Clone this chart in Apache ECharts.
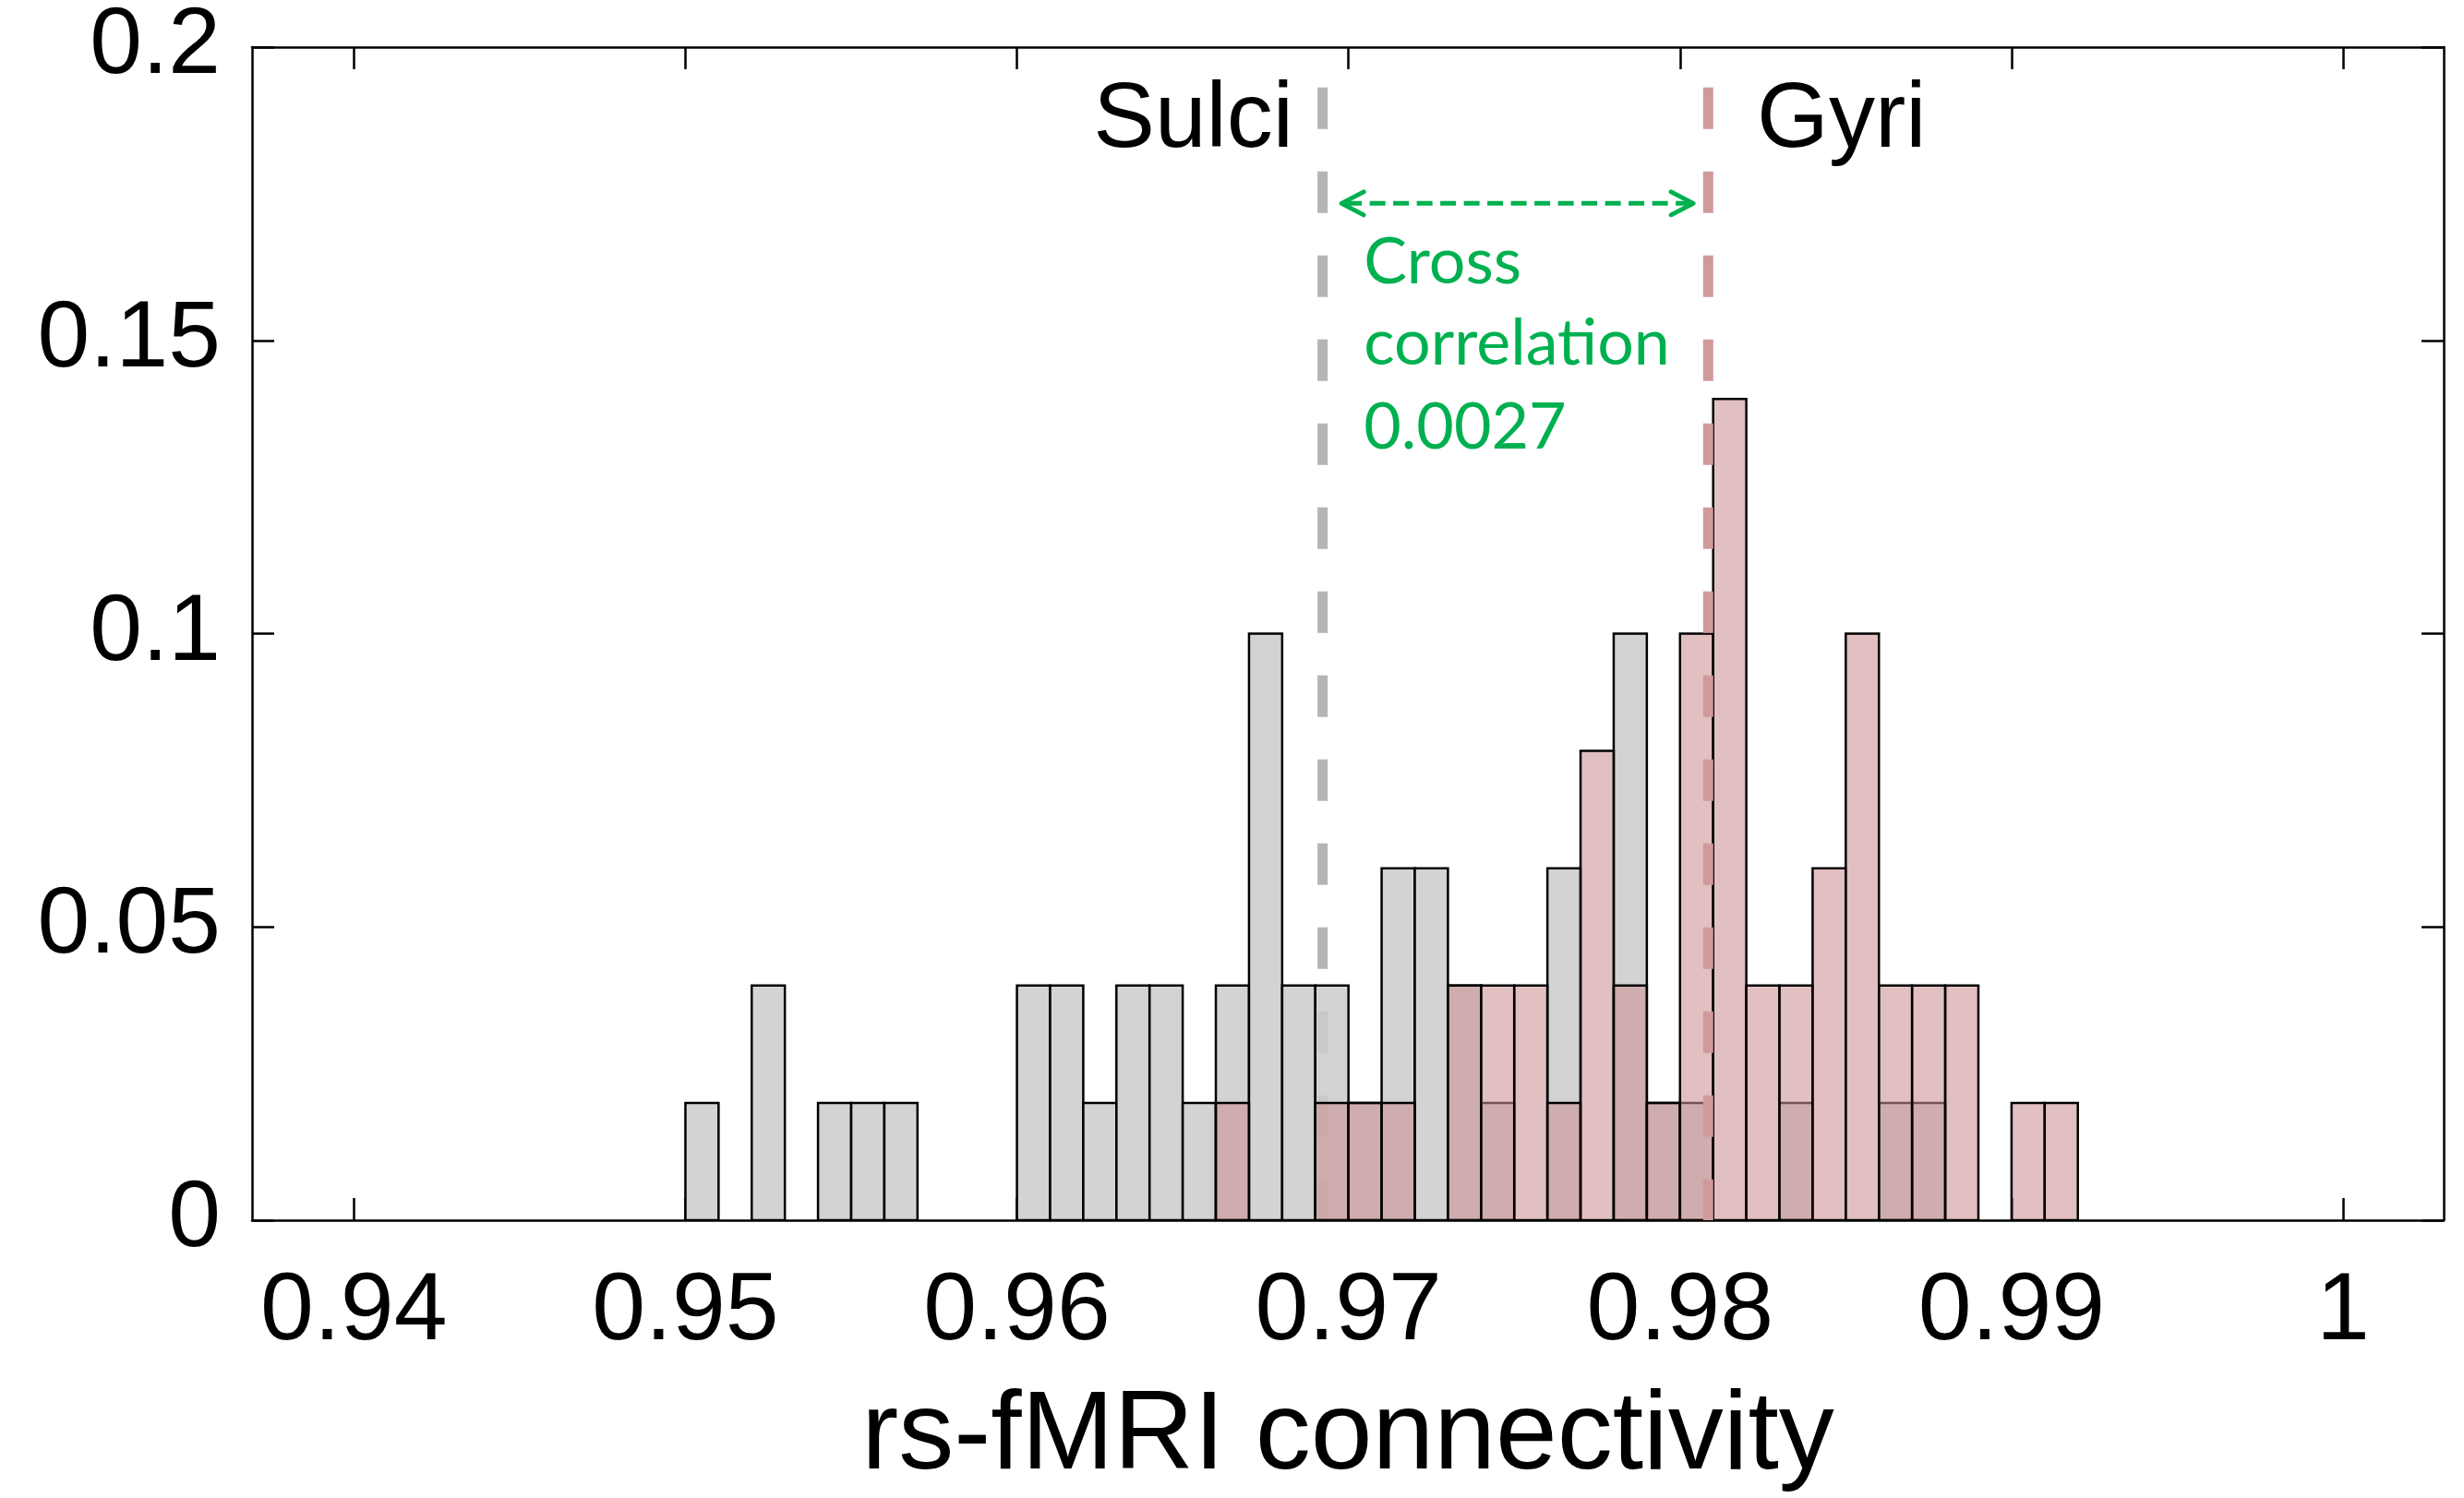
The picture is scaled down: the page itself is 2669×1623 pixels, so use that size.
<!DOCTYPE html>
<html>
<head>
<meta charset="utf-8">
<title>rs-fMRI connectivity: sulci vs gyri</title>
<script src="https://cdn.jsdelivr.net/npm/echarts@6/dist/echarts.min.js"></script>
<style>
  html, body { margin: 0; padding: 0; background: #ffffff; }
  #chart { width: 2669px; height: 1623px; }
</style>
</head>
<body>
<div id="chart"></div>
<script>
// Histogram bins (left edges), width 0.001
const binLeftEdges = [
  0.950, 0.951, 0.952, 0.953, 0.954, 0.955, 0.956, 0.957, 0.958, 0.959,
  0.960, 0.961, 0.962, 0.963, 0.964, 0.965, 0.966, 0.967, 0.968, 0.969,
  0.970, 0.971, 0.972, 0.973, 0.974, 0.975, 0.976, 0.977, 0.978, 0.979,
  0.980, 0.981, 0.982, 0.983, 0.984, 0.985, 0.986, 0.987, 0.988, 0.989,
  0.990, 0.991
];
const binWidth = 0.001;

// Relative frequency per bin
const sulciFreq = [
  0.02, 0, 0.04, 0, 0.02, 0.02, 0.02, 0, 0, 0,
  0.04, 0.04, 0.02, 0.04, 0.04, 0.02, 0.04, 0.10, 0.04, 0.04,
  0.02, 0.06, 0.06, 0.04, 0.02, 0, 0.06, 0, 0.10, 0.02,
  0.02, 0, 0, 0.02, 0, 0, 0.02, 0.02, 0, 0,
  0, 0
];
const gyriFreq = [
  0, 0, 0, 0, 0, 0, 0, 0, 0, 0,
  0, 0, 0, 0, 0, 0, 0.02, 0, 0, 0.02,
  0.02, 0.02, 0, 0.04, 0.04, 0.04, 0.02, 0.08, 0.04, 0.02,
  0.10, 0.14, 0.04, 0.04, 0.06, 0.10, 0.04, 0.04, 0.04, 0,
  0.02, 0.02
];

// Group means (dashed reference lines) and the annotated cross correlation
const sulciMean = 0.96922;
const gyriMean = 0.98085;
const crossCorrelation = '0.0027';

// Axes
const xTicks = [0.94, 0.95, 0.96, 0.97, 0.98, 0.99, 1.0];
const xTickLabels = ['0.94', '0.95', '0.96', '0.97', '0.98', '0.99', '1'];
const yTicks = [0, 0.05, 0.1, 0.15, 0.2];
const yTickLabels = ['0', '0.05', '0.1', '0.15', '0.2'];
const xTitle = 'rs-fMRI connectivity';

// Text annotations: label, x, y (baseline) in data units
const annotLabels = ['Sulci', 'Gyri', 'Cross', 'correlation', crossCorrelation];
const annotX = [0.96834, 0.98232, 0.97046, 0.97046, 0.97046];
const annotY = [0.18197, 0.18197, 0.15925, 0.14545, 0.13119];

// Double-headed arrow between the two means
const arrowFrom = 0.96979;
const arrowTo = 0.98040;
const arrowLevel = 0.17335;
const meanLineTop = 0.1931;

// ---- styling ----
const GREEN = '#00b050';
const SANS = '"Liberation Sans", Arial, Helvetica, sans-serif';
const HUMANIST = 'Lato, "Open Sans", sans-serif';
const annotStyle = [
  { font: '100px ' + SANS, color: '#000', align: 'right', size: 100, k: 0.3465 },
  { font: '100px ' + SANS, color: '#000', align: 'left', size: 100, k: 0.3465 },
  { font: '70px ' + HUMANIST, color: GREEN, align: 'left', size: 70, k: 0.36 },
  { font: '70px ' + HUMANIST, color: GREEN, align: 'left', size: 70, k: 0.36 },
  { font: '70px ' + HUMANIST, color: GREEN, align: 'left', size: 70, k: 0.36 }
];

const XMIN = 0.936928, XMAX = 1.003035;

function histData(freq) {
  const out = [];
  binLeftEdges.forEach((e, i) => {
    if (freq[i] > 0) out.push([e, e + binWidth, freq[i]]);
  });
  return out;
}

function histRenderer(fill) {
  return function (params, api) {
    const tl = api.coord([api.value(0), api.value(2)]);
    const br = api.coord([api.value(1), 0]);
    return {
      type: 'rect',
      shape: { x: tl[0], y: tl[1], width: br[0] - tl[0], height: br[1] - tl[1] },
      style: { fill: fill, stroke: '#000', lineWidth: 2.5 }
    };
  };
}

function labelFrom(ticks, labels) {
  return function (v) {
    for (let i = 0; i < ticks.length; i++) {
      if (Math.abs(ticks[i] - v) < 1e-9) return labels[i];
    }
    return String(v);
  };
}

const frameLine = { show: true, onZero: false, lineStyle: { color: '#000', width: 2.5 } };
const innerTick = { show: true, inside: true, length: 24, lineStyle: { color: '#000', width: 2.5 } };

const chart = echarts.init(document.getElementById('chart'), null, { renderer: 'canvas' });

chart.setOption({
  backgroundColor: '#ffffff',
  animation: false,
  grid: { left: 273, right: 22, top: 47, bottom: 300, containLabel: false },
  xAxis: [
    {
      type: 'value', position: 'bottom', min: XMIN, max: XMAX,
      axisLine: frameLine,
      axisTick: Object.assign({ customValues: xTicks }, innerTick),
      axisLabel: {
        customValues: xTicks, formatter: labelFrom(xTicks, xTickLabels),
        fontSize: 104, fontFamily: SANS, color: '#000', margin: 48
      },
      splitLine: { show: false },
      name: xTitle, nameLocation: 'middle', nameGap: 176,
      nameTextStyle: { fontSize: 120, fontFamily: SANS, color: '#000' }
    },
    {
      type: 'value', position: 'top', min: XMIN, max: XMAX,
      axisLine: frameLine,
      axisTick: Object.assign({ customValues: xTicks }, innerTick),
      axisLabel: { show: false },
      splitLine: { show: false }
    }
  ],
  yAxis: [
    {
      type: 'value', position: 'left', min: 0, max: 0.2,
      axisLine: frameLine,
      axisTick: Object.assign({ customValues: yTicks }, innerTick),
      axisLabel: {
        customValues: yTicks, formatter: labelFrom(yTicks, yTickLabels),
        fontSize: 102, fontFamily: SANS, color: '#000', margin: 34
      },
      splitLine: { show: false }
    },
    {
      type: 'value', position: 'right', min: 0, max: 0.2,
      axisLine: frameLine,
      axisTick: Object.assign({ customValues: yTicks }, innerTick),
      axisLabel: { show: false },
      splitLine: { show: false }
    }
  ],
  series: [
    {
      // Sulci mean (drawn beneath the bars)
      type: 'line', name: 'Sulci mean', z: 1, silent: true,
      showSymbol: false, symbol: 'none',
      data: [[sulciMean, meanLineTop], [sulciMean, 0]],
      lineStyle: { color: '#b4b4b4', width: 11, type: [45, 46], cap: 'butt' }
    },
    {
      type: 'custom', name: 'Sulci', z: 2, silent: true, clip: true,
      encode: { x: [0, 1], y: 2 },
      renderItem: histRenderer('rgba(204,204,204,0.87)'),
      data: histData(sulciFreq)
    },
    {
      type: 'custom', name: 'Gyri', z: 3, silent: true, clip: true,
      encode: { x: [0, 1], y: 2 },
      renderItem: histRenderer('rgba(204,143,145,0.57)'),
      data: histData(gyriFreq)
    },
    {
      // Gyri mean
      type: 'line', name: 'Gyri mean', z: 4, silent: true,
      showSymbol: false, symbol: 'none',
      data: [[gyriMean, meanLineTop], [gyriMean, 0]],
      lineStyle: { color: '#d09a9b', width: 11, type: [45, 46], cap: 'butt' }
    },
    {
      // Dashed double arrow between the means
      type: 'custom', name: 'arrow', z: 5, silent: true,
      encode: { x: [0, 1], y: 2 },
      renderItem: function (params, api) {
        const a = api.coord([api.value(0), api.value(2)]);
        const b = api.coord([api.value(1), api.value(2)]);
        const head = 24, spread = 12.5;
        const st = { stroke: GREEN, lineWidth: 5, fill: null, lineCap: 'round', lineJoin: 'round' };
        return {
          type: 'group',
          children: [
            { type: 'line', shape: { x1: a[0] + 5, y1: a[1], x2: b[0] - 5, y2: b[1] },
              style: { stroke: GREEN, lineWidth: 5, lineDash: [17, 8.5] } },
            { type: 'polyline', shape: { points: [[a[0] + head, a[1] - spread], [a[0], a[1]], [a[0] + head, a[1] + spread]] }, style: st },
            { type: 'polyline', shape: { points: [[b[0] - head, b[1] - spread], [b[0], b[1]], [b[0] - head, b[1] + spread]] }, style: st }
          ]
        };
      },
      data: [[arrowFrom, arrowTo, arrowLevel]]
    },
    {
      // Text annotations
      type: 'custom', name: 'labels', z: 6, silent: true,
      encode: { x: 0, y: 1 },
      renderItem: function (params, api) {
        const i = params.dataIndex;
        const s = annotStyle[i];
        const p = api.coord([api.value(0), api.value(1)]);
        return {
          type: 'text', x: p[0], y: p[1] - s.k * s.size,
          style: { text: annotLabels[i], font: s.font, fill: s.color, align: s.align, verticalAlign: 'middle' }
        };
      },
      data: annotX.map((x, i) => [x, annotY[i]])
    }
  ]
});
</script>
</body>
</html>
